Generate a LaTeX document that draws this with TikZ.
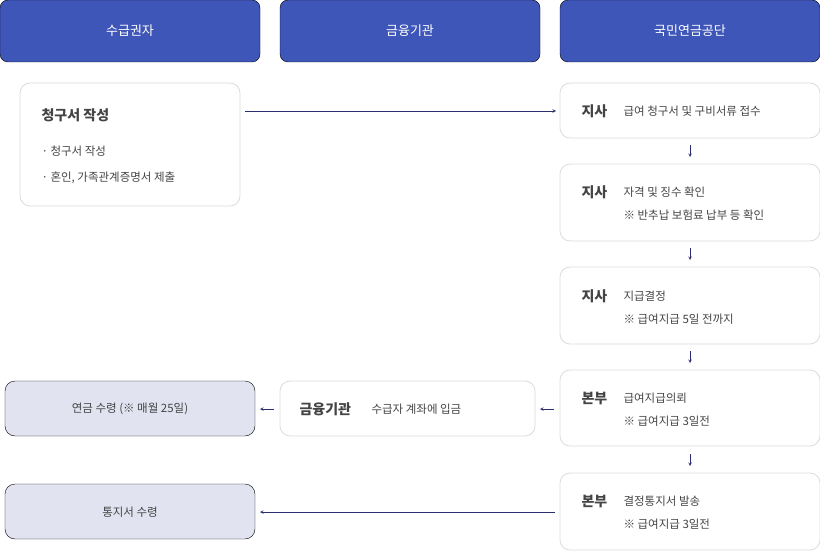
\documentclass[tikz,border=0pt]{standalone}
\usepackage{fontspec}
\setmainfont{Noto Sans CJK KR}
\usetikzlibrary{positioning}
\definecolor{headblue}{HTML}{3F56B9}
\definecolor{navy}{HTML}{2B2E6E}
\definecolor{boxgray}{HTML}{DCDCDC}
\definecolor{paleblue}{HTML}{E1E3F1}
\definecolor{txt}{HTML}{444444}
\tikzset{
  head/.style={fill=headblue, rounded corners=8pt},
  card/.style={draw=boxgray, fill=white, rounded corners=10pt, line width=0.8pt},
  pale/.style={fill=paleblue, rounded corners=10pt},
  who/.style={anchor=west, text=txt, font=\bfseries\fontsize{14}{16}\selectfont},
  line/.style={anchor=west, text=txt, font=\fontsize{11.5}{13}\selectfont},
  flow/.style={draw=navy, line width=0.6pt, ->, >=stealth},
}
\begin{document}
\begin{tikzpicture}[x=1pt,y=-1pt]
\useasboundingbox (0,0) rectangle (820,551);
% headers
\filldraw[head] (0,0) rectangle (260,62);
\node[text=white, font=\fontsize{13}{15}\selectfont] (h1) at (130,31) {수급권자};
\filldraw[head] (280,0) rectangle (540,62);
\node[text=white, font=\fontsize{13}{15}\selectfont] (h2) at (410,31) {금융기관};
\filldraw[head] (560,0) rectangle (820,62);
\node[text=white, font=\fontsize{13}{15}\selectfont] (h3) at (690,31) {국민연금공단};
% applicant
\filldraw[card] (20,83) rectangle (240,206);
\node[who] (claim) at (38,115) {청구서 작성};
\node[line] (c1) at (38,151) {· 청구서 작성};
\node[line] (c2) at (38,178) {· 혼인, 가족관계증명서 제출};
% pension service
\filldraw[card] (560,83) rectangle (820,138);
\node[who] (s1) at (578,111) {지사};
\node[line] (t1) at (620,111) {급여 청구서 및 구비서류 접수};
\filldraw[card] (560,164) rectangle (820,241);
\node[who] (s2) at (578,192) {지사};
\node[line] (t2) at (620,192) {자격 및 징수 확인};
\node[line] (n2) at (620,215) {※ 반추납 보험료 납부 등 확인};
\filldraw[card] (560,267) rectangle (820,344);
\node[who] (s3) at (578,296) {지사};
\node[line] (t3) at (620,296) {지급결정};
\node[line] (n3) at (620,319) {※ 급여지급 5일 전까지};
\filldraw[card] (560,370) rectangle (820,446);
\node[who] (s4) at (578,398) {본부};
\node[line] (t4) at (620,398) {급여지급의뢰};
\node[line] (n4) at (620,421) {※ 급여지급 3일전};
\filldraw[card] (560,473) rectangle (820,550);
\node[who] (s5) at (578,501) {본부};
\node[line] (t5) at (620,501) {결정통지서 발송};
\node[line] (n5) at (620,524) {※ 급여지급 3일전};
% bank
\filldraw[card] (280,381) rectangle (535,436);
\node[who] (bank) at (296,409) {금융기관};
\node[line] (deposit) at (368,409) {수급자 계좌에 입금};
% receipts
\filldraw[pale] (5,381) rectangle (255,436);
\node[text=txt, font=\fontsize{11.5}{13}\selectfont] (recv) at (130,409) {연금 수령 (※ 매월 25일)};
\filldraw[pale] (5,484) rectangle (255,539);
\node[text=txt, font=\fontsize{11.5}{13}\selectfont] (notice) at (130,512) {통지서 수령};
% arrows
\coordinate (a1) at (245,111); \coordinate (b1) at (556,111);
\draw[flow] (a1) -- (b1);
\foreach \y in {145,248,351,454}
  \draw[flow] (690,\y) -- (690,\y+12);
\coordinate (a2) at (554,409); \coordinate (b2) at (540,409);
\draw[flow] (a2) -- (b2);
\coordinate (a3) at (274,409); \coordinate (b3) at (260,409);
\draw[flow] (a3) -- (b3);
\coordinate (a4) at (555,512); \coordinate (b4) at (260,512);
\draw[flow] (a4) -- (b4);
\end{tikzpicture}
\end{document}
